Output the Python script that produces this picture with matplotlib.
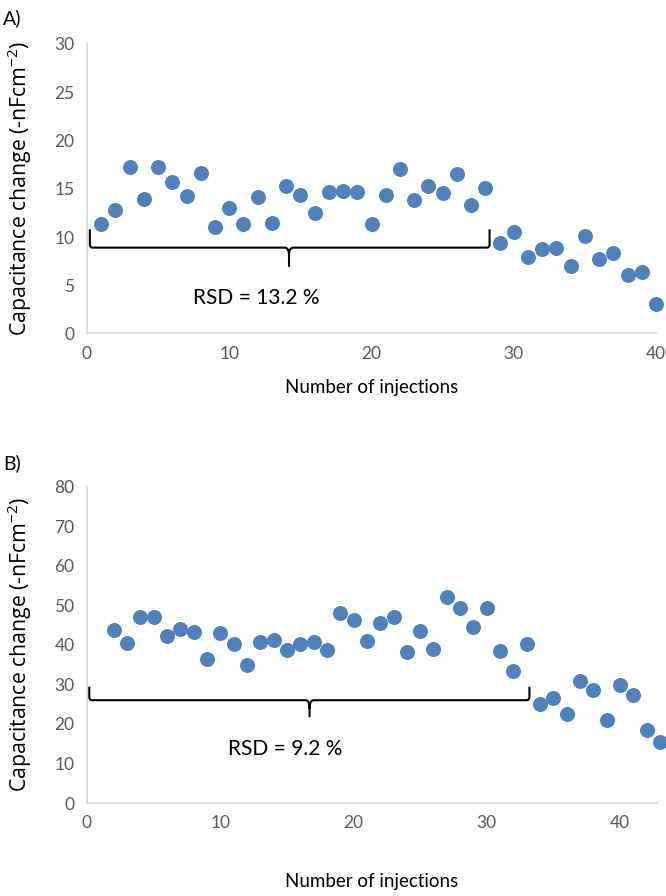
import matplotlib
matplotlib.use('Agg')
import matplotlib.pyplot as plt
from matplotlib.path import Path
from matplotlib.patches import PathPatch

# panel A data
injections_a = list(range(1, 41))
capacitance_a = [11.3, 12.8, 17.3, 13.9, 17.25, 15.7, 14.3, 16.6, 11.0, 13.0,
                 11.3, 14.15, 11.4, 15.25, 14.4, 12.45, 14.7, 14.8, 14.7, 11.35,
                 14.4, 17.0, 13.8, 15.25, 14.6, 16.5, 13.3, 15.1, 9.4, 10.5,
                 7.9, 8.75, 8.9, 6.95, 10.1, 7.7, 8.3, 6.05, 6.35, 3.1]

# panel B data
injections_b = list(range(2, 44))
capacitance_b = [43.8, 40.5, 47.0, 47.0, 42.2, 44.0, 43.3, 36.5, 43.0, 40.3,
                 35.0, 40.8, 41.2, 38.8, 40.3, 40.8, 38.7, 48.1, 46.3, 41.0,
                 45.6, 47.0, 38.2, 43.4, 38.9, 52.1, 49.2, 44.4, 49.4, 38.4,
                 33.4, 40.2, 25.0, 26.5, 22.6, 30.9, 28.6, 20.9, 29.8, 27.3,
                 18.5, 15.4]

rsd_a = 'RSD = 13.2 %'
rsd_b = 'RSD = 9.2 %'

plt.rcParams['font.family'] = ['Lato', 'DejaVu Sans']
plt.rcParams['mathtext.default'] = 'regular'

W, H = 666, 896
fig = plt.figure(figsize=(W / 100, H / 100), dpi=100)


def px_axes(left, top, right, bottom):
    return fig.add_axes([left / W, 1 - bottom / H, (right - left) / W, (bottom - top) / H])


def brace(ax, x0, x1, xm, yh, ytop, ytip, rx, ry, mrx, mry):
    verts = [
        (x0, ytop), (x0, yh + ry),
        (x0, yh), (x0 + rx, yh),
        (xm - mrx, yh),
        (xm, yh), (xm, yh - mry),
        (xm, ytip),
        (xm, yh - mry),
        (xm, yh), (xm + mrx, yh),
        (x1 - rx, yh),
        (x1, yh), (x1, yh + ry),
        (x1, ytop),
    ]
    codes = [Path.MOVETO, Path.LINETO,
             Path.CURVE3, Path.CURVE3,
             Path.LINETO,
             Path.CURVE3, Path.CURVE3,
             Path.LINETO,
             Path.MOVETO,
             Path.CURVE3, Path.CURVE3,
             Path.LINETO,
             Path.CURVE3, Path.CURVE3,
             Path.LINETO]
    ax.add_patch(PathPatch(Path(verts, codes), fill=False, edgecolor='black',
                           linewidth=1.5, clip_on=False))


def style(ax, ymax, ystep, xmax):
    ax.set_xlim(0, xmax)
    ax.set_ylim(0, ymax)
    ax.set_xticks(range(0, 41, 10))
    ax.set_yticks(range(0, ymax + 1, ystep))
    for side in ('top', 'right'):
        ax.spines[side].set_visible(False)
    for side in ('left', 'bottom'):
        ax.spines[side].set_color('#d9d9d9')
        ax.spines[side].set_linewidth(1.3)
    ax.tick_params(length=0, labelsize=12.5, labelcolor='#595959', pad=9)
    ax.set_ylabel('Capacitance change (-nFcm$^{-2}$)', fontsize=15.3,
                  family=['Open Sans', 'DejaVu Sans'], labelpad=15)


blue = '#4f81bd'

ax_a = px_axes(87, 44, 656, 333.5)
style(ax_a, 30, 5, 40)
ax_a.scatter(injections_a, capacitance_a, s=95, color=blue, clip_on=False, zorder=3)
brace(ax_a, 0.2, 28.3, 14.2, 8.9, 10.8, 6.9, 0.2, 0.35, 0.3, 0.8)
ax_a.text(11.9, 3.7, rsd_a, ha='center', va='center', fontsize=15)
ax_a.set_xlabel('Number of injections', fontsize=13.5, labelpad=12)
fig.text(3 / W, 1 - 18 / H, 'A)', fontsize=14, va='center', ha='left')

ax_b = px_axes(87, 486.7, 656.7, 803)
style(ax_b, 80, 10, 42.75)
ax_b.scatter(injections_b, capacitance_b, s=95, color=blue, clip_on=False, zorder=3)
brace(ax_b, 0.17, 33.2, 16.7, 26.0, 29.4, 21.7, 0.2, 0.9, 0.3, 2.2)
ax_b.text(14.85, 13.6, rsd_b, ha='center', va='center', fontsize=15)
ax_b.set_xlabel('Number of injections', fontsize=13.5, labelpad=30)
fig.text(3 / W, 1 - 463 / H, 'B)', fontsize=14, va='center', ha='left')

fig.savefig('out.png', dpi=100)
